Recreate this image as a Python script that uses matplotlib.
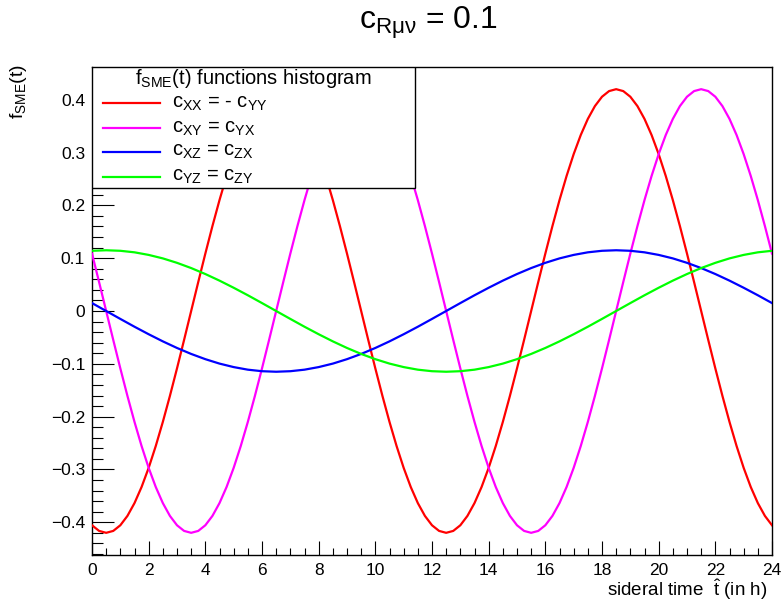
import matplotlib
matplotlib.use("Agg")
import matplotlib.pyplot as plt
from matplotlib.patches import Rectangle
from matplotlib.ticker import FixedLocator, FixedFormatter, MultipleLocator

plt.rcParams['font.family'] = ['Liberation Sans', 'DejaVu Sans']
plt.rcParams['mathtext.fontset'] = 'custom'
plt.rcParams['mathtext.rm'] = 'Liberation Sans'
plt.rcParams['mathtext.it'] = 'Liberation Sans'
plt.rcParams['mathtext.sf'] = 'Liberation Sans'
plt.rcParams['mathtext.bf'] = 'Liberation Sans:bold'

# sidereal time (h), fine sampling for the 12 h components
t_fine = [0.00, 0.25, 0.50, 0.75, 1.00, 1.25, 1.50, 1.75, 2.00, 2.25, 2.50, 2.75,
          3.00, 3.25, 3.50, 3.75, 4.00, 4.25, 4.50, 4.75, 5.00, 5.25, 5.50, 5.75,
          6.00, 6.25, 6.50, 6.75, 7.00, 7.25, 7.50, 7.75, 8.00, 8.25, 8.50, 8.75,
          9.00, 9.25, 9.50, 9.75, 10.00, 10.25, 10.50, 10.75, 11.00, 11.25, 11.50, 11.75,
          12.00, 12.25, 12.50, 12.75, 13.00, 13.25, 13.50, 13.75, 14.00, 14.25, 14.50, 14.75,
          15.00, 15.25, 15.50, 15.75, 16.00, 16.25, 16.50, 16.75, 17.00, 17.25, 17.50, 17.75,
          18.00, 18.25, 18.50, 18.75, 19.00, 19.25, 19.50, 19.75, 20.00, 20.25, 20.50, 20.75,
          21.00, 21.25, 21.50, 21.75, 22.00, 22.25, 22.50, 22.75, 23.00, 23.25, 23.50, 23.75,
          24.00]

f_xx = [-0.4057, -0.4164, -0.4200, -0.4164, -0.4057, -0.3880, -0.3637, -0.3332, -0.2970, -0.2557, -0.2100, -0.1607,
        -0.1087, -0.0548, 0.0000, 0.0548, 0.1087, 0.1607, 0.2100, 0.2557, 0.2970, 0.3332, 0.3637, 0.3880,
        0.4057, 0.4164, 0.4200, 0.4164, 0.4057, 0.3880, 0.3637, 0.3332, 0.2970, 0.2557, 0.2100, 0.1607,
        0.1087, 0.0548, 0.0000, -0.0548, -0.1087, -0.1607, -0.2100, -0.2557, -0.2970, -0.3332, -0.3637, -0.3880,
        -0.4057, -0.4164, -0.4200, -0.4164, -0.4057, -0.3880, -0.3637, -0.3332, -0.2970, -0.2557, -0.2100, -0.1607,
        -0.1087, -0.0548, 0.0000, 0.0548, 0.1087, 0.1607, 0.2100, 0.2557, 0.2970, 0.3332, 0.3637, 0.3880,
        0.4057, 0.4164, 0.4200, 0.4164, 0.4057, 0.3880, 0.3637, 0.3332, 0.2970, 0.2557, 0.2100, 0.1607,
        0.1087, 0.0548, 0.0000, -0.0548, -0.1087, -0.1607, -0.2100, -0.2557, -0.2970, -0.3332, -0.3637, -0.3880,
        -0.4057]

f_xy = [0.1087, 0.0548, 0.0000, -0.0548, -0.1087, -0.1607, -0.2100, -0.2557, -0.2970, -0.3332, -0.3637, -0.3880,
        -0.4057, -0.4164, -0.4200, -0.4164, -0.4057, -0.3880, -0.3637, -0.3332, -0.2970, -0.2557, -0.2100, -0.1607,
        -0.1087, -0.0548, 0.0000, 0.0548, 0.1087, 0.1607, 0.2100, 0.2557, 0.2970, 0.3332, 0.3637, 0.3880,
        0.4057, 0.4164, 0.4200, 0.4164, 0.4057, 0.3880, 0.3637, 0.3332, 0.2970, 0.2557, 0.2100, 0.1607,
        0.1087, 0.0548, 0.0000, -0.0548, -0.1087, -0.1607, -0.2100, -0.2557, -0.2970, -0.3332, -0.3637, -0.3880,
        -0.4057, -0.4164, -0.4200, -0.4164, -0.4057, -0.3880, -0.3637, -0.3332, -0.2970, -0.2557, -0.2100, -0.1607,
        -0.1087, -0.0548, 0.0000, 0.0548, 0.1087, 0.1607, 0.2100, 0.2557, 0.2970, 0.3332, 0.3637, 0.3880,
        0.4057, 0.4164, 0.4200, 0.4164, 0.4057, 0.3880, 0.3637, 0.3332, 0.2970, 0.2557, 0.2100, 0.1607,
        0.1087]

# coarser sampling for the 24 h components
t_hours = [0.0, 0.5, 1.0, 1.5, 2.0, 2.5, 3.0, 3.5, 4.0, 4.5, 5.0, 5.5, 6.0, 6.5, 7.0, 7.5,
           8.0, 8.5, 9.0, 9.5, 10.0, 10.5, 11.0, 11.5, 12.0, 12.5, 13.0, 13.5, 14.0, 14.5,
           15.0, 15.5, 16.0, 16.5, 17.0, 17.5, 18.0, 18.5, 19.0, 19.5, 20.0, 20.5, 21.0,
           21.5, 22.0, 22.5, 23.0, 23.5, 24.0]

f_xz = [0.0150, 0.0000, -0.0150, -0.0298, -0.0440, -0.0575, -0.0700, -0.0813, -0.0912, -0.0996,
        -0.1062, -0.1111, -0.1140, -0.1150, -0.1140, -0.1111, -0.1062, -0.0996, -0.0912, -0.0813,
        -0.0700, -0.0575, -0.0440, -0.0298, -0.0150, 0.0000, 0.0150, 0.0298, 0.0440, 0.0575,
        0.0700, 0.0813, 0.0912, 0.0996, 0.1062, 0.1111, 0.1140, 0.1150, 0.1140, 0.1111,
        0.1062, 0.0996, 0.0912, 0.0813, 0.0700, 0.0575, 0.0440, 0.0298, 0.0150]

f_yz = [0.1140, 0.1150, 0.1140, 0.1111, 0.1062, 0.0996, 0.0912, 0.0813, 0.0700, 0.0575,
        0.0440, 0.0298, 0.0150, 0.0000, -0.0150, -0.0298, -0.0440, -0.0575, -0.0700, -0.0813,
        -0.0912, -0.0996, -0.1062, -0.1111, -0.1140, -0.1150, -0.1140, -0.1111, -0.1062, -0.0996,
        -0.0912, -0.0813, -0.0700, -0.0575, -0.0440, -0.0298, -0.0150, 0.0000, 0.0150, 0.0298,
        0.0440, 0.0575, 0.0700, 0.0813, 0.0912, 0.0996, 0.1062, 0.1111, 0.1140]

series_t = [t_fine, t_fine, t_hours, t_hours]
series = [f_xx, f_xy, f_xz, f_yz]
series_labels = [r'$\mathrm{c}_{\mathrm{XX}}$ = - $\mathrm{c}_{\mathrm{YY}}$',
                 r'$\mathrm{c}_{\mathrm{XY}}$ = $\mathrm{c}_{\mathrm{YX}}$',
                 r'$\mathrm{c}_{\mathrm{XZ}}$ = $\mathrm{c}_{\mathrm{ZX}}$',
                 r'$\mathrm{c}_{\mathrm{YZ}}$ = $\mathrm{c}_{\mathrm{ZY}}$']
series_colors = ['#ff0000', '#ff00ff', '#0000ff', '#00ff00']

xtick_values = [0, 2, 4, 6, 8, 10, 12, 14, 16, 18, 20, 22, 24]
xtick_labels = ['0', '2', '4', '6', '8', '10', '12', '14', '16', '18', '20', '22', '24']
ytick_values = [-0.4, -0.3, -0.2, -0.1, 0.0, 0.1, 0.2, 0.3, 0.4]
ytick_labels = ['\u22120.4', '\u22120.3', '\u22120.2', '\u22120.1', '0', '0.1', '0.2', '0.3', '0.4']

title_text = r'$\mathrm{c}_{\mathrm{R\mu\nu}}$ = 0.1'
legend_title = r'$\mathrm{f}_{\mathrm{SME}}$(t) functions histogram'

fig = plt.figure(figsize=(7.84, 6.04), dpi=100)
ax = fig.add_axes([92 / 784, 1 - 555 / 604, 680 / 784, 488 / 604])

for tt, vals, col in zip(series_t, series, series_colors):
    ax.plot(tt, vals, color=col, lw=1.6, zorder=3, clip_on=True)

ax.set_xlim(0, 24)
ax.set_ylim(-0.462, 0.462)

ax.xaxis.set_major_locator(FixedLocator(xtick_values))
ax.xaxis.set_major_formatter(FixedFormatter(xtick_labels))
ax.xaxis.set_minor_locator(MultipleLocator(0.5))
ax.yaxis.set_major_locator(FixedLocator(ytick_values))
ax.yaxis.set_major_formatter(FixedFormatter(ytick_labels))
ax.yaxis.set_minor_locator(MultipleLocator(0.02))

ax.tick_params(axis='both', which='both', direction='in', top=False, right=False,
               colors='black', width=0.8, labelsize=12.5)
ax.tick_params(axis='x', which='major', length=10, pad=6)
ax.tick_params(axis='x', which='minor', length=5)
ax.tick_params(axis='y', which='major', length=16, pad=5)
ax.tick_params(axis='y', which='minor', length=8)
for sp in ax.spines.values():
    sp.set_linewidth(1.0)
    sp.set_color('black')

ax.set_xlabel(r'sideral time  $\hat{\mathrm{t}}$ (in h)', fontsize=13.5, loc='right')
ax.xaxis.label.set_verticalalignment('baseline')
ax.xaxis.set_label_coords(0.993, -0.084)
ax.set_ylabel(r'$\mathrm{f}_{\mathrm{SME}}$(t)', fontsize=14, loc='top')
ax.yaxis.set_label_coords(-0.093, 1.005)

fig.text(428 / 784, 1 - 29 / 604, title_text, ha='center', va='baseline', fontsize=23)

# legend box (ROOT-style TLegend)
lx0, lw_, lh = 0.0, 323 / 680, 121 / 488
box = Rectangle((lx0, 1 - lh), lw_, lh, transform=ax.transAxes, facecolor='white',
                edgecolor='black', lw=1.0, zorder=5)
ax.add_patch(box)
ax.text(0.2375, 0.977, legend_title, transform=ax.transAxes, ha='center', va='center',
        fontsize=14.5, zorder=6)
entry_y = [0.926, 0.875, 0.826, 0.775]
for yy, lab, col in zip(entry_y, series_labels, series_colors):
    ax.plot([0.016, 0.1], [yy, yy], transform=ax.transAxes, color=col, lw=1.6, zorder=6,
            clip_on=False)
    tx = ax.text(0.1176, yy, lab, transform=ax.transAxes, ha='left', va='center',
                 fontsize=14.5, zorder=6)
    tx.set_clip_path(box)

fig.savefig('out.png', dpi=100)
